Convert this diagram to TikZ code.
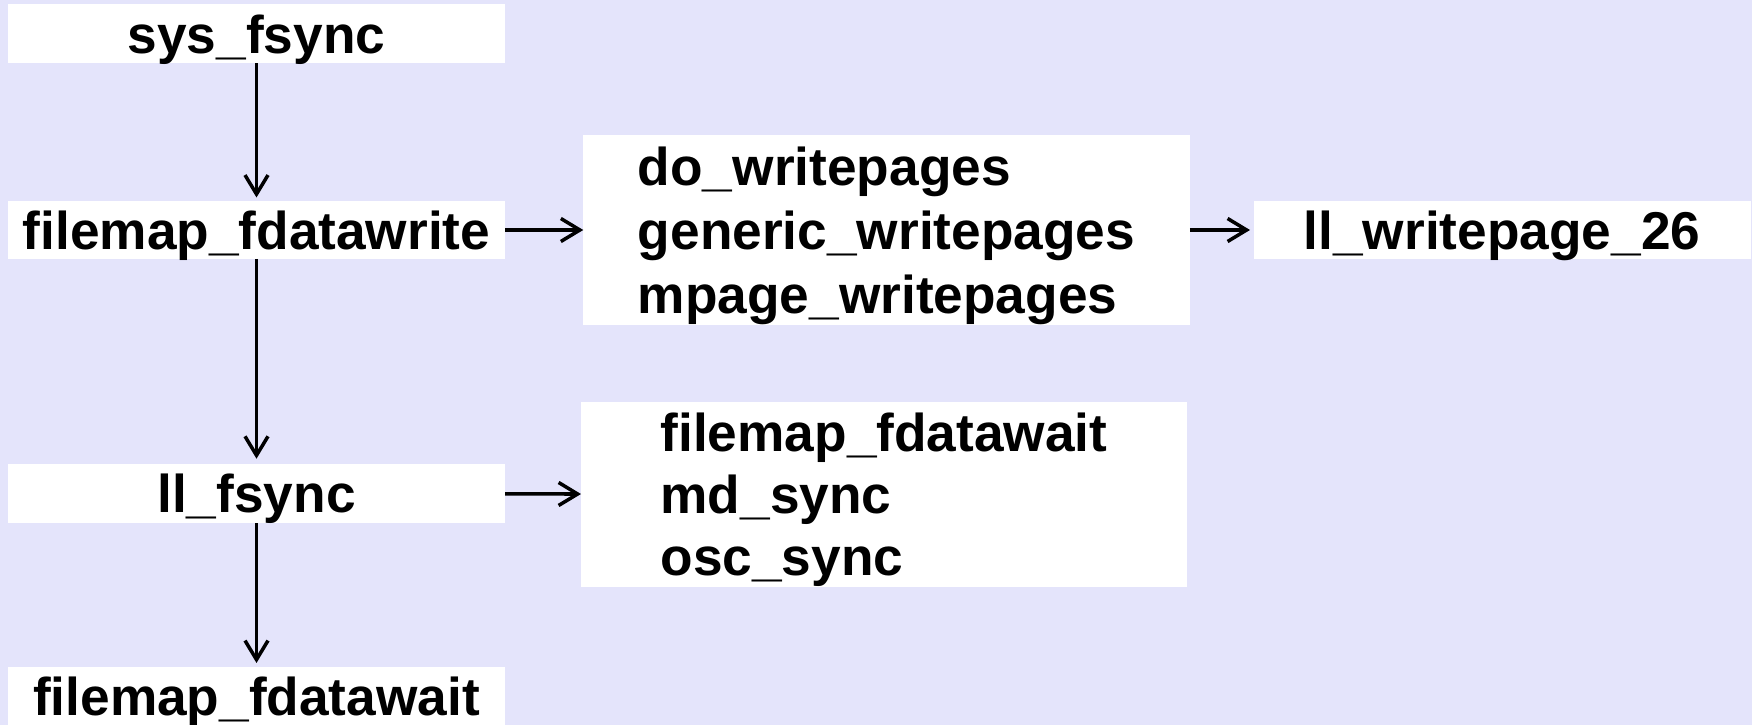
\documentclass[tikz,border=0pt]{standalone}
\usepackage{fontspec}
\setmainfont{Liberation Sans}
\usetikzlibrary{arrows.meta}
\definecolor{lavender}{RGB}{228,228,251}

\begin{document}
\begin{tikzpicture}[
    call/.style={fill=white, inner sep=0pt, outer sep=0pt, minimum width=9.94cm,
      minimum height=1.18cm, text depth=0pt, font=\fontsize{30.3}{36.5}\selectfont\bfseries},
    call group/.style={call, align=left, minimum width=12.13cm},
    flow/.style={line width=2pt, -{Straight Barb[length=0.38cm, width=0.46cm, line width=2pt]}}]

  % ===== Background =====
  \fill[lavender] (0, 0) rectangle (35.04, -14.5);
  \useasboundingbox (0, 0) rectangle (35.04, -14.5);

  % ===== Left column =====
  \node[call] (sys) at (5.13, -0.68) {sys\_fsync};
  \node[call, minimum height=1.16cm] (fdwrite) at (5.13, -4.6) {filemap\_fdatawrite};
  \node[call] (llfsync) at (5.13, -9.87) {ll\_fsync};
  \node[call, minimum height=1.2cm] (fdwait) at (5.13, -13.93) {filemap\_fdatawait};

  % ===== Middle column =====
  \node[call group, minimum height=3.8cm] (writepages) at (17.73, -4.6)
    {do\_writepages\\ generic\_writepages\\ mpage\_writepages};
  \node[call group, minimum width=12.12cm, minimum height=3.7cm,
    font=\fontsize{30.3}{35.2}\selectfont\bfseries] (syncs) at (17.68, -9.89)
    {filemap\_fdatawait\\ md\_sync\\ osc\_sync};

  % ===== Right column =====
  \node[call, minimum height=1.16cm] (writepage) at (30.04, -4.6) {ll\_writepage\_26};

  % ===== Calls =====
  \draw[flow, shorten >=2pt] (sys) -- (fdwrite);
  \draw[flow, shorten >=3pt] (fdwrite) -- (llfsync);
  \draw[flow, shorten >=2pt] (llfsync) -- (fdwait);
  \draw[flow] (fdwrite) -- (writepages);
  \draw[flow, shorten >=2pt] (writepages) -- (writepage);
  \draw[flow] (llfsync) -- (syncs);

\end{tikzpicture}
\end{document}
